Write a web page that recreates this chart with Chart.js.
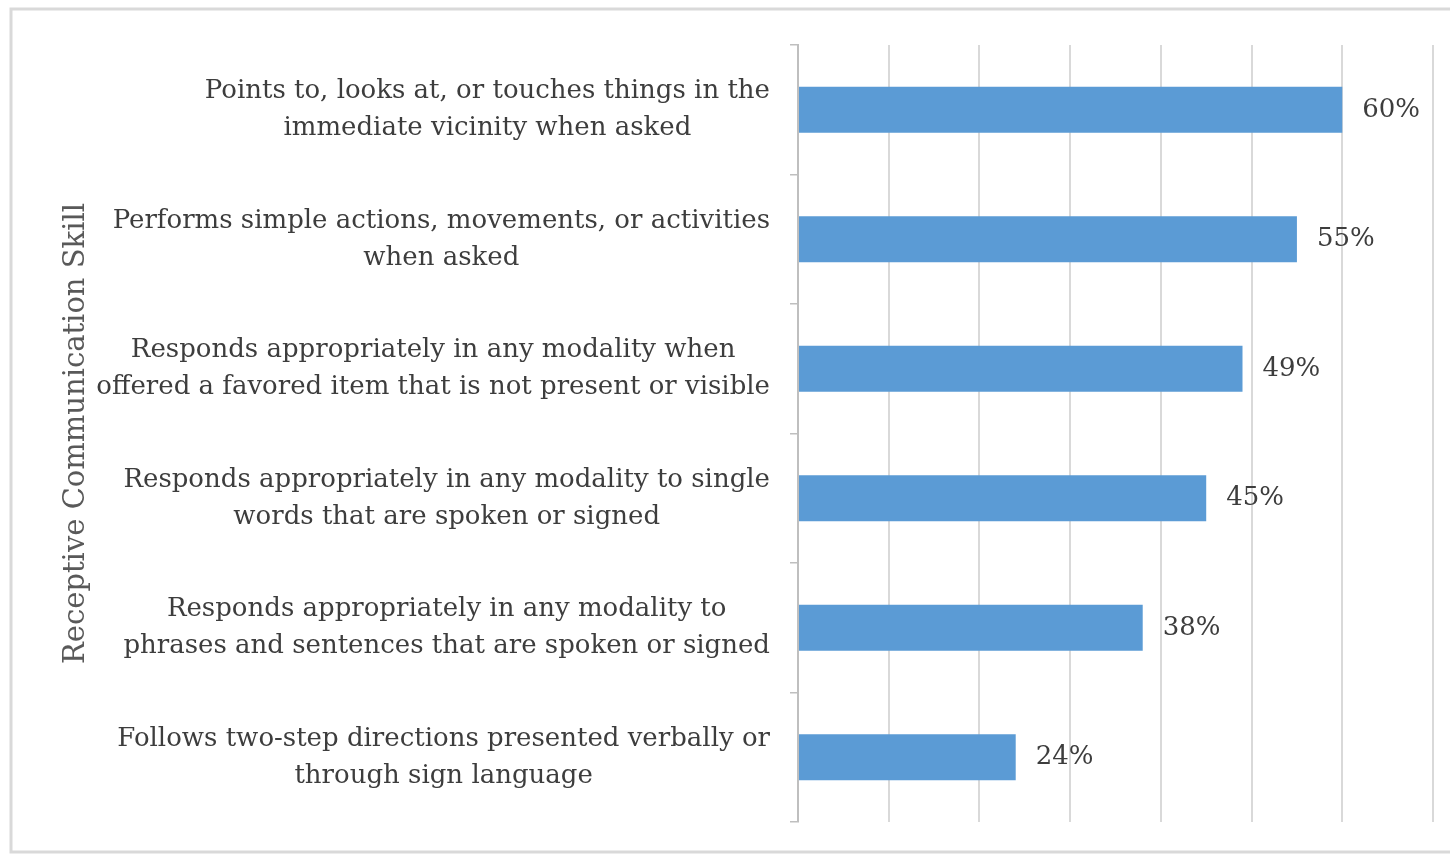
<!DOCTYPE html>
<html>
<head>
<meta charset="utf-8">
<script src="https://cdn.jsdelivr.net/npm/chart.js@4"></script>
<style>
    body { margin: 0; background: #fff; }
    #wrap { width: 1450px; height: 855px; }
</style>
</head>
<body>
<div id="wrap"><canvas id="skillChart" width="1450" height="855"></canvas></div>
<script>
const skillLabels = [
    ['Points to, looks at, or touches things in the', 'immediate vicinity when asked'],
    ['Performs simple actions, movements, or activities', 'when asked'],
    ['Responds appropriately in any modality when', 'offered a favored item that is not present or visible'],
    ['Responds appropriately in any modality to single', 'words that are spoken or signed'],
    ['Responds appropriately in any modality to', 'phrases and sentences that are spoken or signed'],
    ['Follows two-step directions presented verbally or', 'through sign language']
];
const skillPercents = [60, 55, 49, 45, 38, 24];
const axisTitle = 'Receptive Communication Skill';

const serif = "'DejaVu Serif', 'Liberation Serif', serif";
const textColor = '#3d3d3d';
const gridColor = '#d9d9d9';

// outer frame around the figure
const framePlugin = {
    id: 'frame',
    beforeDraw(chart) {
        const ctx = chart.ctx;
        ctx.save();
        ctx.strokeStyle = '#d9d9d9';
        ctx.lineWidth = 3;
        ctx.strokeRect(11, 9, 1450, 843);
        ctx.restore();
    }
};

// category labels: each block right aligned, lines centred on its widest line
const categoryLabelPlugin = {
    id: 'categoryLabels',
    afterDraw(chart) {
        const ctx = chart.ctx;
        const yScale = chart.scales.y;
        const right = yScale.right - 28;
        const lineH = 37;
        ctx.save();
        ctx.font = '26px ' + serif;
        ctx.fillStyle = textColor;
        ctx.textAlign = 'center';
        ctx.textBaseline = 'middle';
        skillLabels.forEach((lines, i) => {
            const y = yScale.getPixelForTick(i);
            const widest = Math.max(...lines.map(l => ctx.measureText(l).width));
            const cx = right - widest / 2;
            lines.forEach((line, j) => {
                ctx.fillText(line, cx, y + (j - (lines.length - 1) / 2) * lineH);
            });
        });
        ctx.restore();
    }
};

// value labels at the end of each bar
const valueLabelPlugin = {
    id: 'valueLabels',
    afterDatasetsDraw(chart) {
        const ctx = chart.ctx;
        const meta = chart.getDatasetMeta(0);
        ctx.save();
        ctx.font = '26px ' + serif;
        ctx.fillStyle = textColor;
        ctx.textAlign = 'left';
        ctx.textBaseline = 'middle';
        meta.data.forEach((bar, i) => {
            ctx.fillText(skillPercents[i] + '%', bar.x + 20, bar.y);
        });
        ctx.restore();
    }
};

new Chart(document.getElementById('skillChart'), {
    type: 'bar',
    data: {
        labels: skillLabels,
        datasets: [{
            data: skillPercents,
            backgroundColor: '#5b9bd5',
            borderWidth: 0,
            barPercentage: 0.355,
            categoryPercentage: 1
        }]
    },
    options: {
        indexAxis: 'y',
        responsive: false,
        animation: false,
        layout: { padding: { left: 59, top: 45, right: 17, bottom: 33 } },
        plugins: {
            legend: { display: false },
            tooltip: { enabled: false }
        },
        scales: {
            x: {
                min: 0,
                max: 70,
                ticks: { display: false, stepSize: 10 },
                grid: { color: gridColor, lineWidth: 2, drawTicks: false },
                border: { display: false }
            },
            y: {
                ticks: { display: false },
                grid: {
                    drawOnChartArea: false,
                    drawTicks: true,
                    tickLength: 8,
                    color: '#bfbfbf',
                    lineWidth: 1.5
                },
                border: { display: true, color: '#bfbfbf', width: 2 },
                title: {
                    display: true,
                    text: axisTitle,
                    color: '#595959',
                    font: { family: serif, size: 29 },
                    padding: 0
                },
                afterFit(scale) {
                    scale.width = 798 - 59;
                }
            }
        }
    },
    plugins: [framePlugin, categoryLabelPlugin, valueLabelPlugin]
});
</script>
</body>
</html>
